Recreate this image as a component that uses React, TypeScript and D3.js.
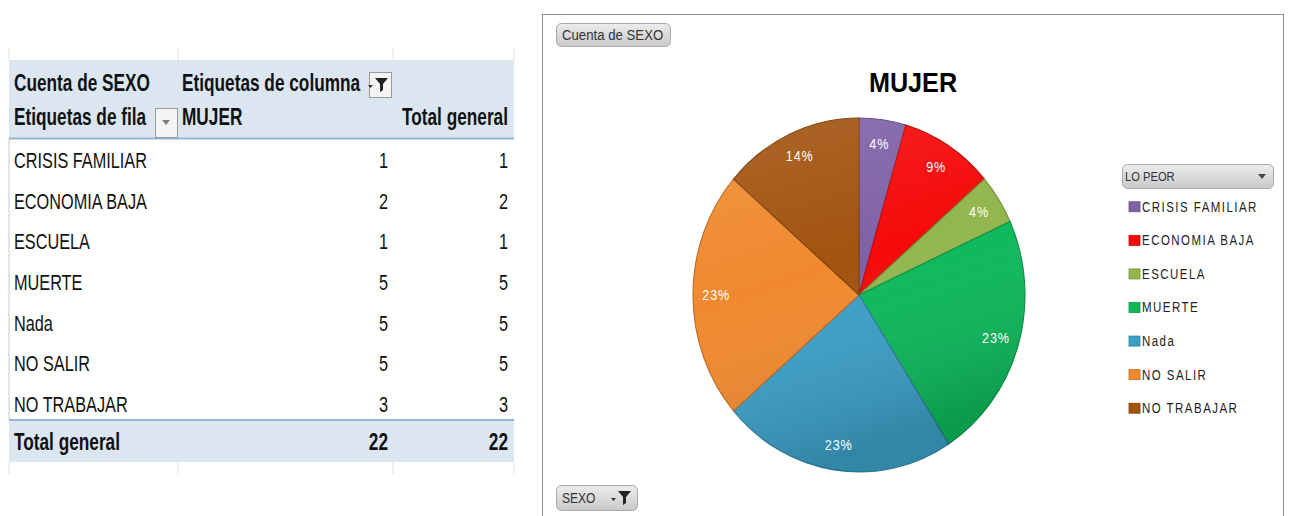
import React from "react";
import * as d3 from "d3";

// Pivot table data (Cuenta de SEXO por LO PEOR, columna MUJER)
const categories = [
  "CRISIS FAMILIAR",
  "ECONOMIA BAJA",
  "ESCUELA",
  "MUERTE",
  "Nada",
  "NO SALIR",
  "NO TRABAJAR",
];
const mujerCounts = [1, 2, 1, 5, 5, 5, 3];
const totalCounts = [1, 2, 1, 5, 5, 5, 3];
// Excel's rounded data labels (they add up to 100)
const pctLabels = ["4%", "9%", "4%", "23%", "23%", "23%", "14%"];

const sliceColors = [
  "#7f62a6",
  "#f50a0a",
  "#93b64e",
  "#0cb85a",
  "#3b9fc6",
  "#f0892e",
  "#a2530f",
];

const W = 1290;
const H = 516;
const sans = "'Liberation Sans', Arial, sans-serif";

// pie geometry (the picture is squeezed horizontally, so the pie is an ellipse)
const cx = 859;
const cy = 295;
const R = 177;
const squeeze = 166 / 177;

// text squeezed horizontally, like the Calibri text of the screenshot
function T(props: any) {
  const { x, y, sx = 0.74, children, ...rest } = props;
  return (
    <text transform={`translate(${x},${y}) scale(${sx},1)`} dominantBaseline="central" {...rest}>
      {children}
    </text>
  );
}

function Funnel({ x, y }: { x: number; y: number }) {
  return (
    <g transform={`translate(${x},${y})`}>
      <path d="M-6,7 l2.5,3 l2.5,-3 z" fill="#333" />
      <path d="M1,0 h13 l-5,6 v6 l-3,2 v-8 z" fill="#222" />
    </g>
  );
}

export default function App() {
  const total = d3.sum(mujerCounts);

  const pie = d3
    .pie<number>()
    .sort(null)
    .value((d) => d);
  const arcs = pie(mujerCounts);
  const arcGen = d3.arc<d3.PieArcDatum<number>>().innerRadius(0).outerRadius(R);
  const labelArc = d3
    .arc<d3.PieArcDatum<number>>()
    .innerRadius(R * 0.86)
    .outerRadius(R * 0.86);

  // table rows
  const rowY = d3.scaleBand().domain(categories).range([140, 424]);
  // legend rows
  const legendY = d3.scaleBand().domain(categories).range([190, 425]);

  const colLeft = 14;
  const colMujer = 388;
  const colTotal = 508;
  const bsx = 0.75; // bold squeeze

  return (
    <div style={{ position: "absolute", left: 0, top: 0 }}>
      <svg width={W} height={H} style={{ display: "block", background: "#fff" }}>
        <defs>
          <linearGradient id="btn" x1="0" y1="0" x2="0" y2="1">
            <stop offset="0" stopColor="#ececec" />
            <stop offset="1" stopColor="#c9c9c9" />
          </linearGradient>
          <linearGradient id="shade" x1="0" y1="0" x2="0.3" y2="1">
            <stop offset="0" stopColor="#fff" stopOpacity="0.12" />
            <stop offset="0.5" stopColor="#fff" stopOpacity="0" />
            <stop offset="1" stopColor="#000" stopOpacity="0.16" />
          </linearGradient>
        </defs>

        {/* faint sheet grid around the table */}
        <g stroke="#e3e3e3">
          {[9, 178, 393, 514].map((x) => (
            <g key={x}>
              <line x1={x} x2={x} y1={48} y2={60} />
              <line x1={x} x2={x} y1={462} y2={474} />
            </g>
          ))}
        </g>

        {/* ---------- pivot table ---------- */}
        <rect x={9} y={60} width={505} height={78} fill="#dce6f1" />
        <rect x={9} y={420} width={505} height={42} fill="#dce6f1" />
        <line x1={9} x2={9} y1={138} y2={420} stroke="#c8c8c8" />
        <line x1={9} x2={514} y1={138.5} y2={138.5} stroke="#95b3d7" strokeWidth={2} />
        <line x1={9} x2={514} y1={420} y2={420} stroke="#95b3d7" strokeWidth={2} />

        <g fontFamily={sans} fill="#111">
          <g fontWeight="bold" fontSize={23}>
            <T x={colLeft} y={83.5} sx={bsx}>Cuenta de SEXO</T>
            <T x={182} y={83.5} sx={bsx}>Etiquetas de columna</T>
            <T x={colLeft} y={117} sx={bsx}>Etiquetas de fila</T>
            <T x={182} y={117} sx={bsx}>MUJER</T>
            <T x={colTotal} y={117} sx={bsx} textAnchor="end">Total general</T>
          </g>

          <g fontSize={22}>
            {categories.map((c, i) => {
              const y = (rowY(c) as number) + rowY.bandwidth() / 2;
              return (
                <g key={c}>
                  <T x={colLeft} y={y}>{c}</T>
                  <T x={colMujer} y={y} textAnchor="end">{mujerCounts[i]}</T>
                  <T x={colTotal} y={y} textAnchor="end">{totalCounts[i]}</T>
                </g>
              );
            })}
          </g>

          <g fontWeight="bold" fontSize={23}>
            <T x={colLeft} y={442} sx={bsx}>Total general</T>
            <T x={colMujer} y={442} sx={bsx} textAnchor="end">{total}</T>
            <T x={colTotal} y={442} sx={bsx} textAnchor="end">{d3.sum(totalCounts)}</T>
          </g>
        </g>

        {/* filter button next to "Etiquetas de columna" */}
        <rect x={369.5} y={72.5} width={22} height={25} fill="#f4f4f4" stroke="#9a9a9a" />
        <Funnel x={374} y={78} />
        {/* dropdown next to "Etiquetas de fila" */}
        <rect x={155.5} y={108.5} width={22} height={29} fill="#f4f4f4" stroke="#9a9a9a" />
        <path d="M162,120 h8 l-4,5 z" fill="#7a7a7a" />

        {/* ---------- chart ---------- */}
        <rect x={542.5} y={14.5} width={741} height={530} fill="#fff" stroke="#8d8d8d" />

        <rect x={556.5} y={23.5} width={114} height={23} rx={5} fill="url(#btn)" stroke="#a9a9a9" />
        <T x={562} y={35} sx={0.91} fontFamily={sans} fontSize={14.5} fill="#333">
          Cuenta de SEXO
        </T>

        <T x={913} y={83} sx={0.9} fontFamily={sans} fontWeight="bold" fontSize={28} textAnchor="middle" fill="#000">
          MUJER
        </T>

        <g transform={`translate(${cx},${cy}) scale(${squeeze},1)`}>
          {arcs.map((a, i) => (
            <path
              key={categories[i]}
              d={arcGen(a) as string}
              fill={sliceColors[i]}
              stroke={d3.color(sliceColors[i])!.darker(0.7).formatHex()}
              strokeWidth={1.2}
            />
          ))}
          <circle r={R} fill="url(#shade)" />
        </g>
        <g fontFamily={sans} fontSize={14} fill="#fff" letterSpacing={1} textAnchor="middle">
          {arcs.map((a, i) => {
            const [lx, ly] = labelArc.centroid(a);
            return (
              <T key={categories[i]} x={cx + lx * squeeze} y={cy + ly} sx={0.9}>
                {pctLabels[i]}
              </T>
            );
          })}
        </g>

        {/* legend */}
        <rect x={1122.5} y={164.5} width={151} height={24} rx={5} fill="url(#btn)" stroke="#a9a9a9" />
        <T x={1125} y={177} sx={0.86} fontFamily={sans} fontSize={13} fill="#333">
          LO PEOR
        </T>
        <path d="M1258,174 h8 l-4,5 z" fill="#444" />
        <g fontFamily={sans} fontSize={14} fill="#222" letterSpacing={1.8}>
          {categories.map((c, i) => {
            const y = (legendY(c) as number) + legendY.bandwidth() / 2;
            return (
              <g key={c}>
                <rect x={1129} y={y - 5} width={11} height={10} fill={sliceColors[i]} stroke={d3.color(sliceColors[i])!.darker(0.6).formatHex()} strokeWidth={0.8} />
                <T x={1142} y={y} sx={0.82}>{c}</T>
              </g>
            );
          })}
        </g>

        {/* SEXO field button */}
        <rect x={556.5} y={485.5} width={81} height={25} rx={5} fill="url(#btn)" stroke="#a9a9a9" />
        <T x={562} y={498} sx={0.86} fontFamily={sans} fontSize={14} fill="#333">
          SEXO
        </T>
        <Funnel x={617} y={491} />
      </svg>
    </div>
  );
}
